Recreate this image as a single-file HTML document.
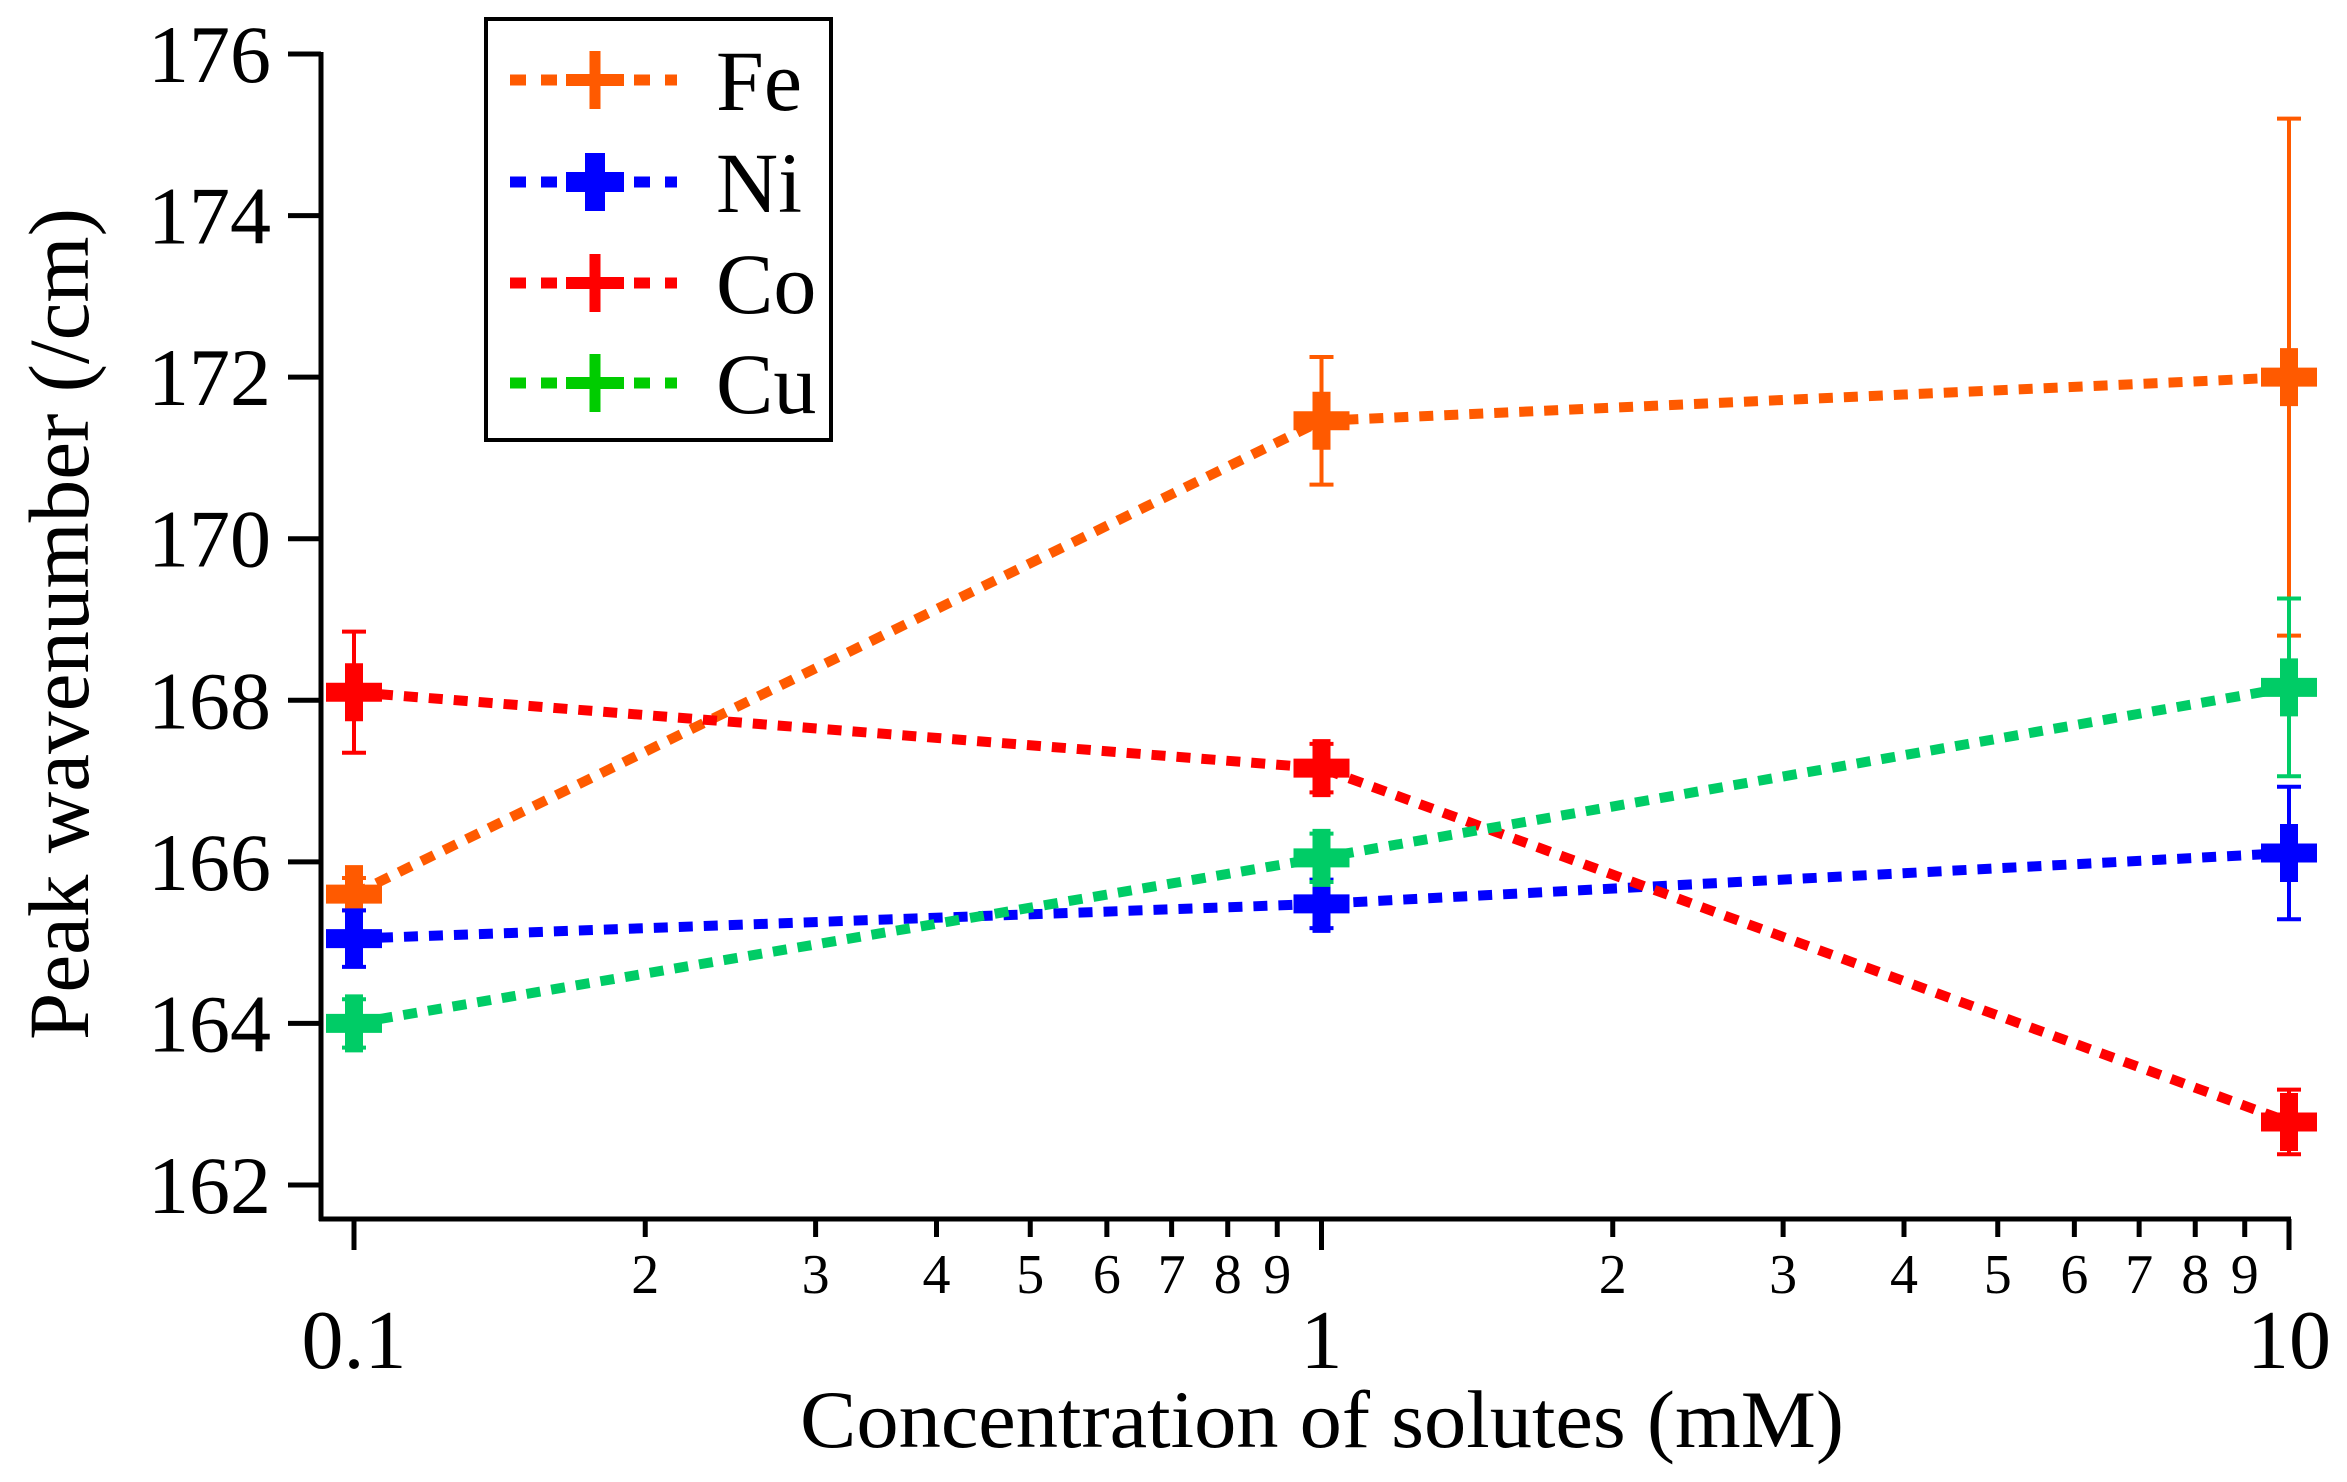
<!DOCTYPE html>
<html><head><meta charset="utf-8"><style>
html,body{margin:0;padding:0;background:#fff;}
svg{display:block;}
text{font-family:"Liberation Serif","Times New Roman",Times,serif;fill:#000;}
</style></head><body>
<svg id="chart" width="2347" height="1482" viewBox="0 0 2347 1482" xmlns="http://www.w3.org/2000/svg">
<g id="axes"></g>
<g id="series"></g>
<g id="legend"></g>
</svg>
<script>
const xValues = [0.1, 1, 10];
const seriesNames = ["Fe", "Ni", "Co", "Cu"];
const seriesColors = ["#ff5a00", "#0000ff", "#ff0000", "#00cc66"];
const legendColors = ["#ff5a00", "#0000ff", "#ff0000", "#00cc00"];
const feValues = [165.6, 171.46, 172.0];
const feErrors = [0.2, 0.79, 3.2];
const niValues = [165.05, 165.48, 166.11];
const niErrors = [0.35, 0.3, 0.82];
const coValues = [168.1, 167.16, 162.78];
const coErrors = [0.75, 0.3, 0.4];
const cuValues = [164.0, 166.05, 168.16];
const cuErrors = [0.3, 0.3, 1.1];
const yTicks = [162, 164, 166, 168, 170, 172, 174, 176];
const xMajorTicks = [0.1, 1, 10];
const xMajorLabels = ["0.1", "1", "10"];
const xMinorTicks = [0.2,0.3,0.4,0.5,0.6,0.7,0.8,0.9,2,3,4,5,6,7,8,9];
const xMinorLabels = ["2","3","4","5","6","7","8","9","2","3","4","5","6","7","8","9"];

const NS = "http://www.w3.org/2000/svg";
const X0 = 354, DEC = 967.5;
function xs(v){ return X0 + (Math.log10(v) - Math.log10(0.1)) * DEC; }
function ys(v){ return 54 + (176 - v) * (1185 - 54) / 14; }
function mk(tag, attrs, parent){ const e = document.createElementNS(NS, tag); for (const k in attrs) e.setAttribute(k, attrs[k]); parent.appendChild(e); return e; }

const axes = document.getElementById('axes');
let el = mk('line', {x1:321, y1:52, x2:321, y2:1221, stroke:'#000', 'stroke-width':5}, axes);


el = mk('line', {x1:319, y1:1219, x2:2291, y2:1219, stroke:'#000', 'stroke-width':5}, axes);


yTicks.forEach(t => {
  const y = ys(t);
  const tk = mk('line', {x1:288, y1:y, x2:321, y2:y, stroke:'#000', 'stroke-width':5}, axes);
  
  
  const lb = mk('text', {x:271, y:y+28, 'text-anchor':'end', 'font-size':82}, axes);
  lb.textContent = String(t);
  
  
});
xMajorTicks.forEach((t, i) => {
  const x = xs(t);
  const tk = mk('line', {x1:x, y1:1219, x2:x, y2:1250, stroke:'#000', 'stroke-width':5}, axes);
  
  
  const lb = mk('text', {x:x, y:1368, 'text-anchor':'middle', 'font-size':84}, axes);
  lb.textContent = xMajorLabels[i];
  
  
});
xMinorTicks.forEach((t, i) => {
  const x = xs(t);
  const tk = mk('line', {x1:x, y1:1219, x2:x, y2:1237, stroke:'#000', 'stroke-width':5}, axes);
  
  
  const lb = mk('text', {x:x, y:1293, 'text-anchor':'middle', 'font-size':56}, axes);
  lb.textContent = xMinorLabels[i];
  
  
});
el = mk('text', {x:1322, y:1447, 'text-anchor':'middle', 'font-size':82, textLength:1044, lengthAdjust:'spacingAndGlyphs'}, axes);
el.textContent = 'Concentration of solutes (mM)';


el = mk('text', {x:0, y:0, 'text-anchor':'middle', 'font-size':86, transform:'translate(88,624) rotate(-90)', textLength:832, lengthAdjust:'spacingAndGlyphs'}, axes);
el.textContent = 'Peak wavenumber (/cm)';



const allValues = [feValues, niValues, coValues, cuValues];
const allErrors = [feErrors, niErrors, coErrors, cuErrors];
const sg = document.getElementById('series');
allValues.forEach((vals, si) => {
  const c = seriesColors[si];
  const g = mk('g', {}, sg);
  
  
  const pts = vals.map((v, i) => xs(xValues[i]) + ',' + ys(v)).join(' ');
  const pl = mk('polyline', {points:pts, fill:'none', stroke:c, 'stroke-width':10, 'stroke-dasharray':'14 11'}, g);
  
  
  vals.forEach((v, i) => {
    const x = xs(xValues[i]), y = ys(v), e = allErrors[si][i];
    const yt = ys(v + e), yb = ys(v - e);
    const eb = mk('path', {d:`M${x},${yt}V${yb}M${x-12},${yt}H${x+12}M${x-12},${yb}H${x+12}`, stroke:c, 'stroke-width':4, fill:'none'}, g);
    
    
    const m = mk('path', {d:`M${x-28},${y-9.5}h56v19h-56zM${x-9},${y-29}h18v58h-18z`, fill:c}, g);
    
    
  });
});

const lg = document.getElementById('legend');
el = mk('rect', {x:486, y:19, width:345, height:421, fill:'#fff', stroke:'#000', 'stroke-width':4}, lg);


const legendY = [80, 182, 283, 383];
seriesNames.forEach((n, i) => {
  const c = legendColors[i], y = legendY[i];
  const g = mk('g', {}, lg);
  
  
  const ln = mk('line', {x1:510, y1:y, x2:677, y2:y, stroke:c, 'stroke-width':11, 'stroke-dasharray':'16 15'}, g);
  
  
  const th = (n === 'Ni') ? 20 : 11;
  const hh = (n === 'Ni') ? 20 : 12;
  const m = mk('path', {d:`M566,${y-hh/2}h58v${hh}h-58zM${595-th/2},${y-29}h${th}v58h-${th}z`, fill:c}, g);
  
  
  const t = mk('text', {x:716, y:y+30, 'font-size':86}, g);
  t.textContent = n;
  
  
});
</script>
</body></html>
